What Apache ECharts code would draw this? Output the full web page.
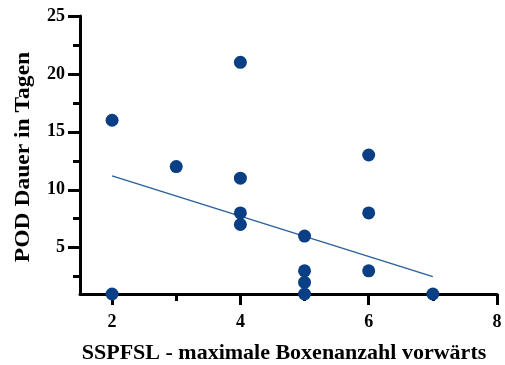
<!DOCTYPE html>
<html>
<head>
<meta charset="utf-8">
<script src="https://cdn.jsdelivr.net/npm/echarts@6/dist/echarts.min.js"></script>
<style>
  html, body { margin: 0; padding: 0; background: #fff; }
  #chart { width: 505px; height: 365px; }
</style>
</head>
<body>
<div id="chart"></div>
<script>
// Maximal forward box count (SSPFSL) vs. POD duration in days
const boxCount = [2, 2, 3, 4, 4, 4, 4, 5, 5, 5, 5, 6, 6, 6, 7];
const podDays  = [16, 1, 12, 21, 11, 8, 7, 6, 3, 2, 1, 13, 8, 3, 1];

// Fitted trend line endpoints
const trendX = [2, 7];
const trendY = [11.2, 2.5];

// Axis ticks
const xMajorTicks = [2, 4, 6, 8];
const xMinorTicks = [3, 5, 7];
const yMajorTicks = [5, 10, 15, 20, 25];
const yMinorTicks = [2.5, 7.5, 12.5, 17.5, 22.5];

const points = boxCount.map((x, i) => [x, podDays[i]]);
const trend = trendX.map((x, i) => [x, trendY[i]]);

const font = '"Liberation Serif", "Times New Roman", serif';
const axisStyle = { color: '#000', width: 3 };
const labelStyle = { color: '#000', fontFamily: font, fontWeight: 'bold', fontSize: 18 };

const chart = echarts.init(document.getElementById('chart'));
chart.setOption({
  animation: false,
  grid: { left: 80, right: 8, top: 16, bottom: 71, outerBoundsMode: 'none', containLabel: false },
  xAxis: [{
    type: 'value', min: 1.5, max: 8,
    axisLine: { show: true, lineStyle: axisStyle },
    axisTick: { show: true, length: 11, lineStyle: axisStyle, customValues: xMajorTicks },
    axisLabel: Object.assign({ customValues: xMajorTicks, margin: 19 }, labelStyle),
    splitLine: { show: false },
    name: 'SSPFSL - maximale Boxenanzahl vorwärts',
    nameLocation: 'middle', nameGap: 48,
    nameTextStyle: { color: '#000', fontFamily: font, fontWeight: 'bold', fontSize: 22, padding: [0, 9, 0, 0] }
  }, {
    type: 'value', min: 1.5, max: 8, position: 'bottom',
    axisLine: { show: false },
    axisTick: { show: true, length: 7, lineStyle: axisStyle, customValues: xMinorTicks },
    axisLabel: { show: false },
    splitLine: { show: false }
  }],
  yAxis: [{
    type: 'value', min: 1, max: 25,
    axisLine: { show: true, lineStyle: axisStyle },
    axisTick: { show: true, length: 12, lineStyle: axisStyle, customValues: yMajorTicks },
    axisLabel: Object.assign({ customValues: yMajorTicks, margin: 15 }, labelStyle),
    splitLine: { show: false }
  }, {
    type: 'value', min: 1, max: 25, position: 'left',
    axisLine: { show: false },
    axisTick: { show: true, length: 7, lineStyle: axisStyle, customValues: yMinorTicks },
    axisLabel: { show: false },
    splitLine: { show: false }
  }],
  graphic: [{
    // y-axis title, rotated to read bottom-to-top
    type: 'text',
    x: 23, y: 157,
    rotation: Math.PI / 2,
    scaleX: 1.07,
    style: {
      text: 'POD Dauer in Tagen',
      fill: '#000',
      font: 'bold 22px ' + font,
      align: 'center',
      verticalAlign: 'middle'
    }
  }],
  series: [{
    type: 'line',
    data: trend,
    symbol: 'none',
    lineStyle: { color: '#2b5f9e', width: 1.5 },
    z: 2
  }, {
    type: 'scatter',
    data: points,
    symbol: 'circle',
    symbolSize: 13,
    itemStyle: { color: '#0a3f85', opacity: 1 },
    z: 3
  }]
});
</script>
</body>
</html>
